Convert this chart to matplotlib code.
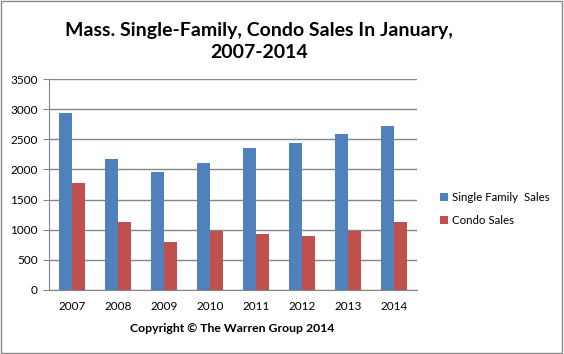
import numpy as np
import matplotlib.pyplot as plt
from matplotlib.patches import Rectangle

# Data
years = ['2007', '2008', '2009', '2010', '2011', '2012', '2013', '2014']
single_family = [2940, 2176, 1960, 2110, 2359, 2442, 2591, 2724]
condo = [1777, 1130, 797, 986, 936, 897, 986, 1130]

plt.rcParams['font.family'] = ['Lato', 'DejaVu Sans']

fig = plt.figure(figsize=(5.64, 3.54), dpi=100)
# outer border
fig.patches.append(Rectangle((0.002, 0.003), 0.995, 0.994, transform=fig.transFigure,
                             fill=False, edgecolor='#888888', linewidth=1))

ax = fig.add_axes([49 / 564, 1 - 290 / 354, 368 / 564, 211 / 354])

x = np.arange(len(years))
w = 0.283
ax.bar(x - w / 2, single_family, w, color='#4F81BD', label='Single Family  Sales')
ax.bar(x + w / 2, condo, w, color='#C0504D', label='Condo Sales')

ax.set_xlim(-0.5, len(years) - 0.5)
ax.set_ylim(0, 3500)
ax.set_yticks(range(0, 3501, 500))
ax.set_xticks(x)
ax.set_xticklabels(years)
ax.yaxis.grid(True, color='#868686', linewidth=1)
ax.set_axisbelow(True)
for s in ['top', 'right']:
    ax.spines[s].set_visible(False)
ax.spines['left'].set_color('#868686')
ax.spines['bottom'].set_color('#868686')
ax.tick_params(axis='y', length=4, color='#868686', labelsize=8.5, pad=4)
ax.tick_params(axis='x', length=0, labelsize=8.5, pad=8)

fig.text(0.459, 0.915, 'Mass. Single-Family, Condo Sales In January,', ha='center',
         va='center', fontsize=14, fontweight='bold')
fig.text(0.459, 0.853, '2007-2014', ha='center', va='center', fontsize=14, fontweight='bold')
fig.text(232 / 564, 1 - 328 / 354, 'Copyright \u00a9 The Warren Group 2014', ha='center',
         va='center', fontsize=8.8, fontweight='bold')

fig.legend(loc='center left', bbox_to_anchor=(430 / 564, 1 - 209 / 354), frameon=False,
           fontsize=8.3, handlelength=0.7, handleheight=0.7, handletextpad=0.3,
           labelspacing=1.0)

fig.savefig('out.png', dpi=100)
